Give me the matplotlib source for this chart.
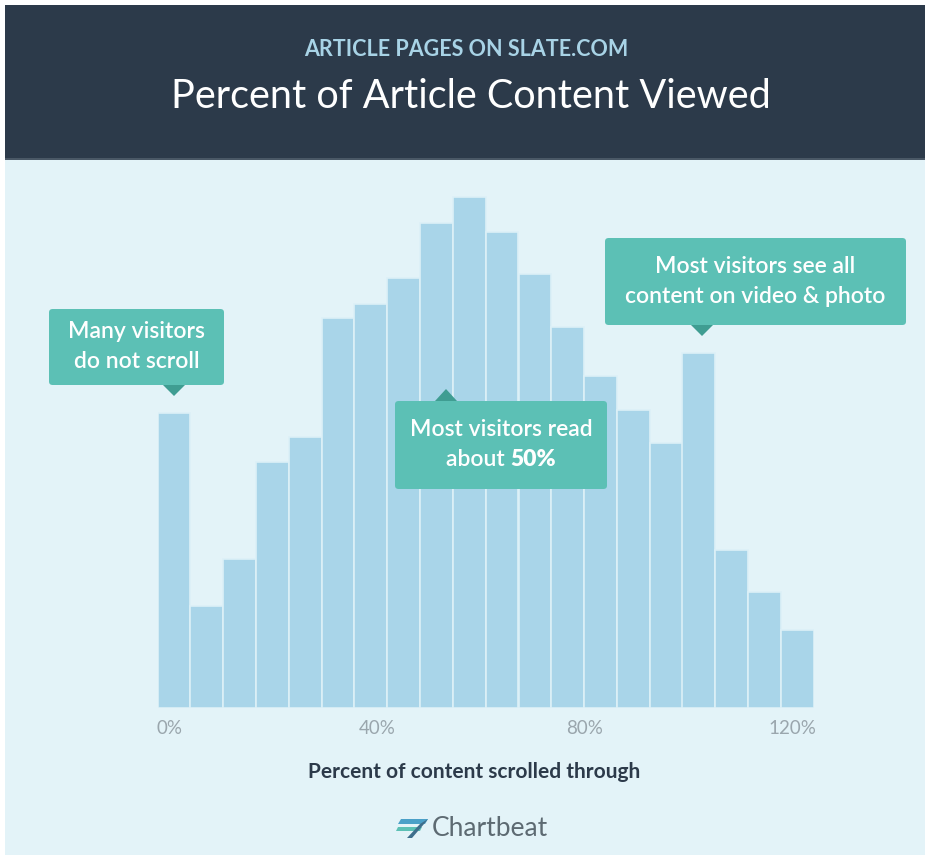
import matplotlib
matplotlib.use("Agg")
import matplotlib.pyplot as plt
import numpy as np
from matplotlib.patches import Rectangle, FancyBboxPatch, Polygon
from matplotlib import font_manager

# ---- data ----
bar_heights = [295, 102, 149, 246, 271, 390, 404, 430, 485, 511,
               476, 434, 381, 332, 298, 265, 355, 158, 116, 78]
tick_values = [0, 40, 80, 120]
tick_labels = ["0%", "40%", "80%", "120%"]
bin_width = 6.32      # percent per bar
bin_start = -2.27     # left edge of first bar (percent)

title = "Percent of Article Content Viewed"
subtitle = "ARTICLE PAGES ON SLATE.COM"
xlabel = "Percent of content scrolled through"

W, H = 929, 860
fig = plt.figure(figsize=(W / 100, H / 100), dpi=100)
fig.patch.set_facecolor("white")

names = {f.name for f in font_manager.fontManager.ttflist}
FONT = "Lato" if "Lato" in names else "DejaVu Sans"

def fx(x):
    return x / W

def fy(y):
    return 1 - y / H

NAVY = "#2c3a4a"
BG = "#e3f3f8"
BAR = "#a9d5e9"
TEAL = "#5cc0b5"
TEAL_DARK = "#3f9d92"

# backgrounds
fig.add_artist(Rectangle((fx(5), fy(855)), fx(920), (855 - 158) / H,
                         transform=fig.transFigure, facecolor=BG, edgecolor="none", zorder=0))
fig.add_artist(Rectangle((fx(5), fy(158)), fx(920), (158 - 5) / H,
                         transform=fig.transFigure, facecolor=NAVY, edgecolor="none", zorder=0))
fig.add_artist(Rectangle((fx(5), fy(160)), fx(920), 2 / H,
                         transform=fig.transFigure, facecolor="#4a5866", edgecolor="none", zorder=0))

fig.text(fx(466), fy(50), subtitle, ha="center", va="center", color="#a8d3e6",
         fontsize=15.5, fontweight="bold", family=FONT)
fig.text(fx(471), fy(96), title, ha="center", va="center", color="white",
         fontsize=28.5, fontweight="normal", family=FONT)

# axes
n = len(bar_heights)
lefts = bin_start + bin_width * np.arange(n)
ax_left_px, ax_right_px = 157.7, 813.7
base_px, top_px = 708, 188
ax = fig.add_axes([fx(ax_left_px), fy(base_px), (ax_right_px - ax_left_px) / W,
                   (base_px - top_px) / H])
ax.set_facecolor("none")
ax.bar(lefts, bar_heights, width=bin_width, align="edge", color=BAR,
       edgecolor="#dcf0f7", linewidth=1.2, zorder=2)
ax.set_xlim(lefts[0], lefts[-1] + bin_width)
ax.set_ylim(0, base_px - top_px)
for s in ax.spines.values():
    s.set_visible(False)
ax.set_yticks([])
ax.set_xticks(tick_values)
ax.set_xticklabels(tick_labels, color="#9aa6ad", fontsize=13.5, family=FONT)
ax.tick_params(axis="x", length=0, pad=9)
ax.set_xlabel(xlabel, fontsize=15, fontweight="bold", color=NAVY, family=FONT)
ax.xaxis.set_label_coords((474 - ax_left_px) / (ax_right_px - ax_left_px), -0.104)

# callouts
FS = 16.5

def callout(x0, y0, x1, y1, lines, tri_x, tri_dir):
    fig.add_artist(FancyBboxPatch((fx(x0), fy(y1)), (x1 - x0) / W, (y1 - y0) / H,
                                  boxstyle="round,pad=0,rounding_size=0.004",
                                  transform=fig.transFigure, facecolor=TEAL,
                                  edgecolor="none", zorder=5))
    if tri_dir == "down":
        pts = [(fx(tri_x - 11), fy(y1)), (fx(tri_x + 11), fy(y1)), (fx(tri_x), fy(y1 + 11))]
    else:
        pts = [(fx(tri_x - 11), fy(y0)), (fx(tri_x + 11), fy(y0)), (fx(tri_x), fy(y0 - 12))]
    fig.add_artist(Polygon(pts, closed=True, transform=fig.transFigure,
                           facecolor=TEAL_DARK, edgecolor="none", zorder=5))
    cx = (x0 + x1) / 2
    cy = (y0 + y1) / 2
    gap = 30
    ys = [cy - gap / 2, cy + gap / 2]
    r = fig.canvas.get_renderer()
    for line, yy in zip(lines, ys):
        if isinstance(line, tuple):
            a, b = line
            t1 = fig.text(0, 0, a, fontsize=FS, color="white", family=FONT, fontweight="semibold")
            t2 = fig.text(0, 0, b, fontsize=FS, color="white", family=FONT, fontweight="heavy")
            w1 = t1.get_window_extent(r).width
            w2 = t2.get_window_extent(r).width
            start = cx - (w1 + w2) / 2
            t1.set_position((fx(start), fy(yy)))
            t1.set_va("center"); t1.set_zorder(6)
            t2.set_position((fx(start + w1), fy(yy)))
            t2.set_va("center"); t2.set_zorder(6)
        else:
            fig.text(fx(cx), fy(yy), line, ha="center", va="center", fontsize=FS,
                     color="white", family=FONT, fontweight="semibold", zorder=6)

callout(49, 309, 224, 385, ["Many visitors", "do not scroll"], 174, "down")
callout(395, 401, 607, 489, ["Most visitors read", ("about ", "50%")], 446, "up")
callout(605, 238, 906, 325, ["Most visitors see all", "content on video & photo"], 702, "down")

# Chartbeat logo
fig.add_artist(Polygon([(fx(401), fy(819)), (fx(428), fy(819)), (fx(425), fy(824)), (fx(398), fy(824))],
                       closed=True, transform=fig.transFigure, facecolor="#4aa0c8",
                       edgecolor="none", zorder=3))
fig.add_artist(Polygon([(fx(398), fy(827)), (fx(422), fy(827)), (fx(420), fy(831)), (fx(396), fy(831))],
                       closed=True, transform=fig.transFigure, facecolor="#5cc0b5",
                       edgecolor="none", zorder=3))
fig.add_artist(Polygon([(fx(428), fy(819)), (fx(424), fy(824)), (fx(412), fy(838)), (fx(407), fy(838)), (fx(420), fy(824))],
                       closed=True, transform=fig.transFigure, facecolor="#3e6e8c",
                       edgecolor="none", zorder=3))
fig.text(fx(432), fy(828), "Chartbeat", ha="left", va="center", fontsize=19,
         color="#5d6a72", family=FONT)

fig.savefig("out.png", dpi=100, facecolor=fig.get_facecolor())
